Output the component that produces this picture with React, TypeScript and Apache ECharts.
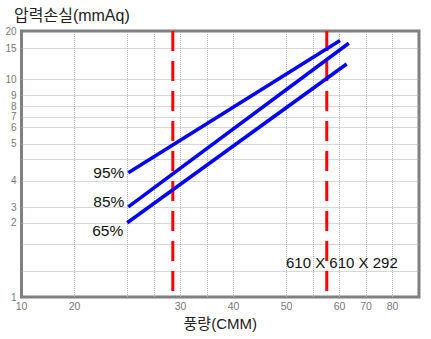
import React, { useEffect, useRef } from "react";
import * as echarts from "echarts";

// X axis: 15 equal grid divisions; labels on some of them
const xTickValues = [0, 2, 6, 8, 10, 12, 13, 14];
const xTickLabels = ["10", "20", "30", "40", "50", "60", "70", "80"];
const xGridValues = [2, 4, 5, 6, 7, 8, 10, 11, 12, 13, 14];

// Y axis: hand-drawn, irregular scale (0 = bottom, 100 = top)
const yTickValues = [0, 27.9, 33.7, 43.7, 57.6, 63.8, 67.7, 71.7, 75.7, 81.7, 93.6, 100];
const yTickLabels = ["1", "2", "3", "4", "5", "6", "7", "8", "9", "10", "15", "20"];
const yGridValues = [9.8, 19.8, 27.9, 33.7, 43.7, 51.6, 57.6, 63.8, 67.7, 71.7, 75.7, 81.7, 93.6];

// Efficiency curves (start, end)
const curveNames = ["95%", "85%", "65%"];
const curve95 = [[4.03, 46.7], [12.02, 96.4]];
const curve85 = [[4.03, 33.9], [12.35, 95.4]];
const curve65 = [[3.99, 27.9], [12.27, 87.6]];
const curveLabelShift = [0, -5, 8];

// Reference (red dashed) lines
const refLineX = [5.71, 11.52];
const refLabel = "610 X 610 X 292";

const FONT = "'Liberation Sans', Arial, 'Noto Sans CJK KR', sans-serif";

export default function App() {
  const ref = useRef<HTMLDivElement>(null);
  useEffect(() => {
    if (!ref.current) return;
    const chart = echarts.init(ref.current, null, { renderer: "svg" });
    const curves = [curve95, curve85, curve65];
    const curveSeries = curves.map((c, i) => ({
      type: "line",
      name: curveNames[i],
      z: 4,
      showSymbol: true,
      symbol: "circle",
      symbolSize: 0,
      lineStyle: { color: "#0000ff", width: 3.5 },
      itemStyle: { color: "#0000ff" },
      data: c.map((p, j) =>
        j === 0
          ? {
              value: p,
              label: {
                show: true,
                position: "left",
                distance: 4,
                offset: [0, curveLabelShift[i]],
                formatter: curveNames[i],
                fontSize: 15.5,
                color: "#111",
                fontFamily: FONT,
              },
            }
          : { value: p, label: { show: false } }
      ),
    }));
    const refSeries = refLineX.map((x) => ({
      type: "line",
      z: 3,
      showSymbol: false,
      symbol: "none",
      lineStyle: { color: "#ff0000", width: 3, type: [20, 10] },
      data: [
        [x, 100],
        [x, 0],
      ],
    }));
    chart.setOption({
      animation: false,
      backgroundColor: "#ffffff",
      textStyle: { fontFamily: FONT },
      title: {
        text: "압력손실(mmAq)",
        left: 9,
        top: 2,
        textStyle: { fontSize: 16, fontWeight: "normal", color: "#222", fontFamily: FONT },
      },
      grid: {
        left: 21.5,
        right: 12,
        top: 31,
        bottom: 42,
        show: true,
        borderColor: "#808080",
        borderWidth: 3,
        backgroundColor: "#ffffff",
        outerBoundsMode: "none",
      },
      xAxis: {
        type: "value",
        min: 0,
        max: 15,
        interval: 1,
        name: "풍량(CMM)",
        nameLocation: "middle",
        nameGap: 19,
        nameTextStyle: { fontSize: 15, color: "#222", fontFamily: FONT },
        axisLine: { show: false },
        axisTick: { show: false },
        splitLine: { show: false },
        axisLabel: {
          customValues: xTickValues,
          color: "#777",
          fontSize: 10.5,
          margin: 4,
          formatter: (v: number) => {
            const i = xTickValues.indexOf(v);
            return i >= 0 ? xTickLabels[i] : "";
          },
        },
      },
      yAxis: {
        type: "value",
        min: 0,
        max: 100,
        axisLine: { show: false },
        axisTick: { show: false },
        splitLine: { show: false },
        axisLabel: {
          customValues: yTickValues,
          color: "#777",
          fontSize: 10,
          lineHeight: 10,
          margin: 5,
          formatter: (v: number) => {
            const i = yTickValues.indexOf(v);
            return i >= 0 ? yTickLabels[i] : "";
          },
        },
      },
      graphic: [
        {
          type: "text",
          left: 286,
          top: 255,
          z: 10,
          style: { text: refLabel, fontSize: 15, fill: "#111", fontFamily: FONT },
        },
      ],
      series: [
        {
          type: "line",
          z: 1,
          silent: true,
          symbol: "none",
          lineStyle: { opacity: 0 },
          data: [[0, 0]],
          markLine: {
            z: 1,
            silent: true,
            symbol: "none",
            label: { show: false },
            lineStyle: { type: "dotted", color: "#b0b0b0", width: 1 },
            data: [
              ...xGridValues.map((v) => ({ xAxis: v })),
              ...yGridValues.map((v) => ({ yAxis: v })),
            ],
          },
        },
        ...refSeries,
        ...curveSeries,
      ],
    });
    return () => chart.dispose();
  }, []);
  return (
    <div
      ref={ref}
      style={{ position: "fixed", left: 0, top: 0, width: 431, height: 339 }}
    />
  );
}
